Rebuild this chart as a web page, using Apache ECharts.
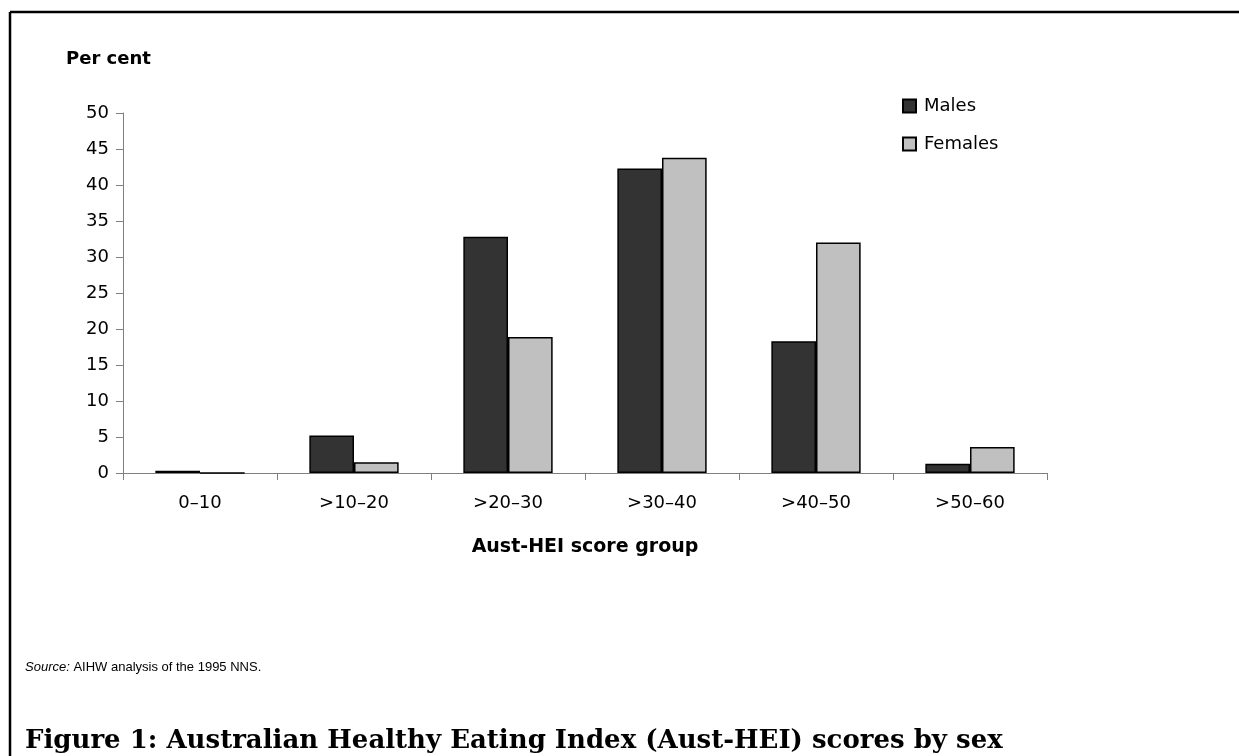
<!DOCTYPE html>
<html>
<head>
<meta charset="utf-8">
<script src="https://cdn.jsdelivr.net/npm/echarts@6/dist/echarts.min.js"></script>
<style>
  html, body { margin: 0; padding: 0; background: #fff; }
  #chart { width: 1239px; height: 756px; }
</style>
</head>
<body>
<div id="chart"></div>
<script>
// Aust-HEI score groups
const categories = ['0–10', '>10–20', '>20–30', '>30–40', '>40–50', '>50–60']
const males = [0.3, 5.2, 32.8, 42.3, 18.3, 1.3]
const females = [0, 1.5, 18.9, 43.8, 32.0, 3.6]
const yTicks = [0, 5, 10, 15, 20, 25, 30, 35, 40, 45, 50]

const sans = 'DejaVu Sans, Arial, sans-serif'
const arial = 'Liberation Sans, Arial, sans-serif'

const chart = echarts.init(document.getElementById('chart'), null, { renderer: 'canvas' })

chart.setOption({
  animation: false,
  backgroundColor: '#fff',
  grid: { left: 123, right: 192, top: 113, bottom: 283, containLabel: false },
  legend: {
    orient: 'vertical',
    left: 897,
    top: 92,
    itemWidth: 13,
    itemHeight: 13,
    itemGap: 20,
    icon: 'rect',
    textStyle: { fontFamily: sans, fontSize: 18, color: '#000', padding: [0, 0, 0, 3] },
    data: ['Males', 'Females'],
  },
  title: [
    {
      text: 'Per cent',
      left: 66,
      top: 50,
      padding: 0,
      textStyle: { fontFamily: sans, fontSize: 18, fontWeight: 'bold', color: '#000' },
    },
    {
      text: '{i|Source:} AIHW analysis of the 1995 NNS.',
      left: 25,
      top: 661,
      padding: 0,
      textStyle: {
        fontFamily: arial, fontSize: 13, fontWeight: 'normal', color: '#000',
        rich: { i: { fontFamily: arial, fontSize: 13, fontStyle: 'italic', color: '#000' } },
      },
    },
    {
      text: 'Figure 1: Australian Healthy Eating Index (Aust-HEI) scores by sex',
      left: 25,
      top: 728,
      padding: 0,
      textStyle: { fontFamily: 'DejaVu Serif, serif', fontSize: 26, fontWeight: 'bold', color: '#000' },
    },
  ],
  graphic: [
    { type: 'line', shape: { x1: 10, y1: 12, x2: 1239, y2: 12 }, style: { stroke: '#000', lineWidth: 2.5 } },
    { type: 'line', shape: { x1: 10, y1: 12, x2: 10, y2: 756 }, style: { stroke: '#000', lineWidth: 2.5 } },
  ],
  xAxis: {
    type: 'category',
    data: categories,
    boundaryGap: true,
    name: 'Aust-HEI score group',
    nameLocation: 'middle',
    nameGap: 65,
    nameTextStyle: { fontFamily: sans, fontSize: 19, fontWeight: 'bold', color: '#000' },
    axisLine: { lineStyle: { color: '#808080', width: 1 } },
    axisTick: { show: true, alignWithLabel: false, length: 7, lineStyle: { color: '#808080' } },
    axisLabel: { fontFamily: sans, fontSize: 18, color: '#000', margin: 21 },
  },
  yAxis: {
    type: 'value',
    min: 0,
    max: 50,
    interval: 5,
    axisLine: { show: true, lineStyle: { color: '#808080', width: 1 } },
    axisTick: { show: true, length: 7, lineStyle: { color: '#808080' } },
    axisLabel: {
      fontFamily: sans, fontSize: 18, color: '#000', margin: 14,
      formatter: (v) => (yTicks.includes(v) ? String(v) : ''),
    },
    splitLine: { show: false },
  },
  series: [
    {
      name: 'Males',
      type: 'bar',
      data: males,
      barGap: '0%',
      barCategoryGap: '42%',
      itemStyle: { color: '#333333', borderColor: '#000', borderWidth: 1.5 },
    },
    {
      name: 'Females',
      type: 'bar',
      data: females,
      itemStyle: { color: '#c0c0c0', borderColor: '#000', borderWidth: 1.5 },
    },
  ],
})
</script>
</body>
</html>
